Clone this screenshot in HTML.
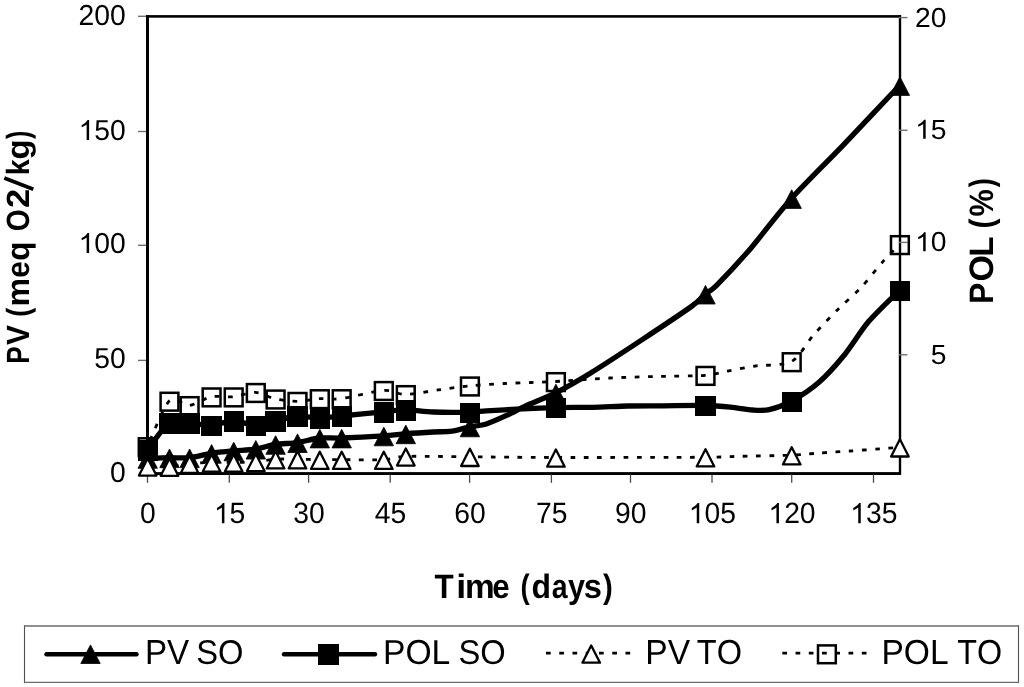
<!DOCTYPE html>
<html><head><meta charset="utf-8"><style>
html,body{margin:0;padding:0;background:#fff;}
svg{display:block;filter:grayscale(1);}
text{font-family:"Liberation Sans",sans-serif;fill:#000;font-kerning:none;text-rendering:geometricPrecision;}
.yl{font-size:28px;}
.lg{font-size:32px;}
.tt{font-size:32px;font-weight:bold;}
.tk{stroke:#707070;stroke-width:1.4;}
.tkx{stroke:#4a4a4a;stroke-width:1.3;}
.ls{fill:none;stroke:#000;stroke-width:5.3;stroke-linejoin:round;stroke-linecap:round;}
.ld{fill:none;stroke:#000;stroke-width:2.8;stroke-dasharray:4.7 8.55;}
.tf{fill:#000;stroke:#000;stroke-width:0.8;stroke-linejoin:round;}
.to{fill:#fff;stroke:#000;stroke-width:2.3;stroke-linejoin:round;}
.sf{fill:#000;shape-rendering:crispEdges;}
.so{fill:none;stroke:#000;stroke-width:2.5;}
</style></head><body>
<svg width="1024" height="687" viewBox="0 0 1024 687">
<rect width="1024" height="687" fill="#fff"/>

<rect x="146" y="15" width="3" height="460" fill="#000"/>
<rect x="146" y="15.1" width="755" height="2.6" fill="#000"/>
<rect x="898.8" y="15.1" width="2.4" height="459.5" fill="#000"/>
<rect x="146" y="472.1" width="755" height="2.9" fill="#000"/>

<line x1="138" y1="16.3" x2="146" y2="16.3" class="tk"/>
<text transform="translate(78.58,24.70) scale(1,1.0200)" style="font-size:28.30px">2</text><text transform="translate(94.32,24.70) scale(1,1.0200)" style="font-size:28.30px">0</text><text transform="translate(110.06,24.70) scale(1,1.0200)" style="font-size:28.30px">0</text>
<line x1="138" y1="131.5" x2="146" y2="131.5" class="tk"/>
<path d="M763,0 L583,0 L583,1147 C540,1106 483,1065 413,1024 C343,983 280,952 224,931 L224,1105 C325,1152 413,1210 488,1277 C563,1344 616,1407 647,1466 L763,1466 Z" transform="translate(78.58,140.00) scale(0.01382,-0.01360)" fill="#000"/><text transform="translate(94.32,140.00) scale(1,1.0200)" style="font-size:28.30px">5</text><text transform="translate(110.06,140.00) scale(1,1.0200)" style="font-size:28.30px">0</text>
<line x1="138" y1="245.3" x2="146" y2="245.3" class="tk"/>
<path d="M763,0 L583,0 L583,1147 C540,1106 483,1065 413,1024 C343,983 280,952 224,931 L224,1105 C325,1152 413,1210 488,1277 C563,1344 616,1407 647,1466 L763,1466 Z" transform="translate(78.58,253.00) scale(0.01382,-0.01360)" fill="#000"/><text transform="translate(94.32,253.00) scale(1,1.0200)" style="font-size:28.30px">0</text><text transform="translate(110.06,253.00) scale(1,1.0200)" style="font-size:28.30px">0</text>
<line x1="138" y1="360.4" x2="146" y2="360.4" class="tk"/>
<text transform="translate(94.32,368.40) scale(1,1.0200)" style="font-size:28.30px">5</text><text transform="translate(110.06,368.40) scale(1,1.0200)" style="font-size:28.30px">0</text>
<text transform="translate(110.06,481.60) scale(1,1.0200)" style="font-size:28.30px">0</text>
<line x1="899" y1="17.6" x2="907.5" y2="17.6" class="tk"/>
<text transform="translate(915.12,27.00) scale(1,0.9750)" style="font-size:28.30px">2</text><text transform="translate(930.86,27.00) scale(1,0.9750)" style="font-size:28.30px">0</text>
<line x1="899" y1="130.3" x2="907.5" y2="130.3" class="tk"/>
<path d="M763,0 L583,0 L583,1147 C540,1106 483,1065 413,1024 C343,983 280,952 224,931 L224,1105 C325,1152 413,1210 488,1277 C563,1344 616,1407 647,1466 L763,1466 Z" transform="translate(915.12,138.80) scale(0.01382,-0.01300)" fill="#000"/><text transform="translate(930.86,138.80) scale(1,0.9750)" style="font-size:28.30px">5</text>
<line x1="899" y1="242.4" x2="907.5" y2="242.4" class="tk"/>
<path d="M763,0 L583,0 L583,1147 C540,1106 483,1065 413,1024 C343,983 280,952 224,931 L224,1105 C325,1152 413,1210 488,1277 C563,1344 616,1407 647,1466 L763,1466 Z" transform="translate(915.12,251.30) scale(0.01382,-0.01300)" fill="#000"/><text transform="translate(930.86,251.30) scale(1,0.9750)" style="font-size:28.30px">0</text>
<line x1="899" y1="354.8" x2="907.5" y2="354.8" class="tk"/>
<text transform="translate(930.86,364.00) scale(1,0.9750)" style="font-size:28.30px">5</text>
<line x1="147.50" y1="474.5" x2="147.50" y2="482.8" class="tkx"/>
<text transform="translate(139.93,523.30) scale(1,1.0400)" style="font-size:28.30px">0</text>
<line x1="229.30" y1="474.5" x2="229.30" y2="482.8" class="tkx"/>
<path d="M763,0 L583,0 L583,1147 C540,1106 483,1065 413,1024 C343,983 280,952 224,931 L224,1105 C325,1152 413,1210 488,1277 C563,1344 616,1407 647,1466 L763,1466 Z" transform="translate(213.86,523.30) scale(0.01382,-0.01387)" fill="#000"/><text transform="translate(229.60,523.30) scale(1,1.0400)" style="font-size:28.30px">5</text>
<line x1="308.60" y1="474.5" x2="308.60" y2="482.8" class="tkx"/>
<text transform="translate(293.16,523.30) scale(1,1.0400)" style="font-size:28.30px">3</text><text transform="translate(308.90,523.30) scale(1,1.0400)" style="font-size:28.30px">0</text>
<line x1="390.20" y1="474.5" x2="390.20" y2="482.8" class="tkx"/>
<text transform="translate(374.76,523.30) scale(1,1.0400)" style="font-size:28.30px">4</text><text transform="translate(390.50,523.30) scale(1,1.0400)" style="font-size:28.30px">5</text>
<line x1="469.60" y1="474.5" x2="469.60" y2="482.8" class="tkx"/>
<text transform="translate(454.16,523.30) scale(1,1.0400)" style="font-size:28.30px">6</text><text transform="translate(469.90,523.30) scale(1,1.0400)" style="font-size:28.30px">0</text>
<line x1="551.40" y1="474.5" x2="551.40" y2="482.8" class="tkx"/>
<text transform="translate(535.96,523.30) scale(1,1.0400)" style="font-size:28.30px">7</text><text transform="translate(551.70,523.30) scale(1,1.0400)" style="font-size:28.30px">5</text>
<line x1="630.50" y1="474.5" x2="630.50" y2="482.8" class="tkx"/>
<text transform="translate(615.06,523.30) scale(1,1.0400)" style="font-size:28.30px">9</text><text transform="translate(630.80,523.30) scale(1,1.0400)" style="font-size:28.30px">0</text>
<line x1="712.00" y1="474.5" x2="712.00" y2="482.8" class="tkx"/>
<path d="M763,0 L583,0 L583,1147 C540,1106 483,1065 413,1024 C343,983 280,952 224,931 L224,1105 C325,1152 413,1210 488,1277 C563,1344 616,1407 647,1466 L763,1466 Z" transform="translate(688.69,523.30) scale(0.01382,-0.01387)" fill="#000"/><text transform="translate(704.43,523.30) scale(1,1.0400)" style="font-size:28.30px">0</text><text transform="translate(720.17,523.30) scale(1,1.0400)" style="font-size:28.30px">5</text>
<line x1="791.70" y1="474.5" x2="791.70" y2="482.8" class="tkx"/>
<path d="M763,0 L583,0 L583,1147 C540,1106 483,1065 413,1024 C343,983 280,952 224,931 L224,1105 C325,1152 413,1210 488,1277 C563,1344 616,1407 647,1466 L763,1466 Z" transform="translate(768.39,523.30) scale(0.01382,-0.01387)" fill="#000"/><text transform="translate(784.13,523.30) scale(1,1.0400)" style="font-size:28.30px">2</text><text transform="translate(799.87,523.30) scale(1,1.0400)" style="font-size:28.30px">0</text>
<line x1="873.50" y1="474.5" x2="873.50" y2="482.8" class="tkx"/>
<path d="M763,0 L583,0 L583,1147 C540,1106 483,1065 413,1024 C343,983 280,952 224,931 L224,1105 C325,1152 413,1210 488,1277 C563,1344 616,1407 647,1466 L763,1466 Z" transform="translate(850.19,523.30) scale(0.01382,-0.01387)" fill="#000"/><text transform="translate(865.93,523.30) scale(1,1.0400)" style="font-size:28.30px">3</text><text transform="translate(881.67,523.30) scale(1,1.0400)" style="font-size:28.30px">5</text>
<path d="M147.40,458.40 C150.45,458.30 163.33,457.80 169.20,457.70 C175.07,457.60 183.41,458.32 189.30,457.70 C195.19,457.08 205.13,454.25 211.30,453.30 C217.47,452.35 227.21,451.47 233.40,450.90 C239.59,450.33 249.63,450.11 255.50,449.20 C261.37,448.29 269.46,445.32 275.30,444.40 C281.14,443.48 291.01,443.50 297.20,442.60 C303.39,441.70 313.31,438.64 319.50,438.00 C325.69,437.36 332.44,438.29 341.40,438.00 C350.36,437.71 374.53,436.49 383.50,435.90 C392.47,435.31 398.54,434.35 405.50,433.80 C412.46,433.25 426.69,432.36 433.20,432.00 C439.71,431.64 446.90,431.91 452.00,431.20 C457.10,430.49 464.80,427.91 469.60,426.90 C474.40,425.89 480.94,425.69 486.30,424.00 C491.66,422.31 502.31,417.36 507.90,414.80 C513.49,412.24 519.52,408.77 526.20,405.70 C532.88,402.63 546.51,397.52 555.60,392.90 C564.69,388.28 578.98,380.16 591.10,372.70 C603.22,365.24 628.16,348.87 642.20,339.60 C656.24,330.33 682.58,312.87 691.40,306.50 C700.22,300.13 701.67,297.07 705.20,294.10 C708.73,291.13 710.36,291.56 716.60,285.30 C722.84,279.04 739.33,261.55 749.80,249.40 C760.27,237.25 778.35,213.07 791.40,198.50 C804.45,183.93 827.85,161.12 843.00,145.30 C858.15,129.48 891.68,93.87 899.60,85.50" class="ls"/>
<path d="M147.70,449.70 L157.40,468.30 L138.00,468.30 Z" class="tf"/>
<path d="M169.50,449.00 L179.20,467.60 L159.80,467.60 Z" class="tf"/>
<path d="M189.60,449.00 L199.30,467.60 L179.90,467.60 Z" class="tf"/>
<path d="M211.60,444.60 L221.30,463.20 L201.90,463.20 Z" class="tf"/>
<path d="M233.70,442.20 L243.40,460.80 L224.00,460.80 Z" class="tf"/>
<path d="M255.80,440.50 L265.50,459.10 L246.10,459.10 Z" class="tf"/>
<path d="M275.60,435.70 L285.30,454.30 L265.90,454.30 Z" class="tf"/>
<path d="M297.50,433.90 L307.20,452.50 L287.80,452.50 Z" class="tf"/>
<path d="M319.80,429.30 L329.50,447.90 L310.10,447.90 Z" class="tf"/>
<path d="M341.70,429.30 L351.40,447.90 L332.00,447.90 Z" class="tf"/>
<path d="M383.80,427.20 L393.50,445.80 L374.10,445.80 Z" class="tf"/>
<path d="M405.80,425.10 L415.50,443.70 L396.10,443.70 Z" class="tf"/>
<path d="M469.90,418.20 L479.60,436.80 L460.20,436.80 Z" class="tf"/>
<path d="M555.90,384.20 L565.60,402.80 L546.20,402.80 Z" class="tf"/>
<path d="M705.50,285.40 L715.20,304.00 L695.80,304.00 Z" class="tf"/>
<path d="M791.70,189.80 L801.40,208.40 L782.00,208.40 Z" class="tf"/>
<path d="M899.90,76.80 L909.60,95.40 L890.20,95.40 Z" class="tf"/>
<path d="M147.40,466.40 C150.45,466.43 163.33,466.98 169.20,466.60 C175.07,466.22 183.41,464.29 189.30,463.70 C195.19,463.11 205.13,462.58 211.30,462.40 C217.47,462.22 227.21,462.47 233.40,462.40 C239.59,462.33 249.63,462.35 255.50,461.90 C261.37,461.45 269.46,459.58 275.30,459.20 C281.14,458.82 291.01,459.13 297.20,459.20 C303.39,459.27 313.31,459.63 319.50,459.70 C325.69,459.77 332.44,459.70 341.40,459.70 C350.36,459.70 374.53,460.16 383.50,459.70 C392.47,459.24 393.45,456.81 405.50,456.40 C417.55,455.99 448.59,456.65 469.60,456.80 C490.61,456.95 522.62,457.44 555.60,457.50 C588.58,457.56 679.38,457.37 705.20,457.20 C731.02,457.03 727.93,456.58 740.00,456.30 C752.07,456.02 780.20,455.66 791.40,455.20 C802.60,454.74 811.80,453.59 820.00,453.00 C828.20,452.41 841.60,451.59 850.00,451.00 C858.40,450.41 873.06,449.32 880.00,448.80 C886.94,448.28 896.86,447.51 899.60,447.30" class="ld"/>
<path d="M147.70,458.40 L156.50,475.60 L138.90,475.60 Z" class="to"/>
<path d="M169.50,458.60 L178.30,475.80 L160.70,475.80 Z" class="to"/>
<path d="M189.60,455.70 L198.40,472.90 L180.80,472.90 Z" class="to"/>
<path d="M211.60,454.40 L220.40,471.60 L202.80,471.60 Z" class="to"/>
<path d="M233.70,454.40 L242.50,471.60 L224.90,471.60 Z" class="to"/>
<path d="M255.80,453.90 L264.60,471.10 L247.00,471.10 Z" class="to"/>
<path d="M275.60,451.20 L284.40,468.40 L266.80,468.40 Z" class="to"/>
<path d="M297.50,451.20 L306.30,468.40 L288.70,468.40 Z" class="to"/>
<path d="M319.80,451.70 L328.60,468.90 L311.00,468.90 Z" class="to"/>
<path d="M341.70,451.70 L350.50,468.90 L332.90,468.90 Z" class="to"/>
<path d="M383.80,451.70 L392.60,468.90 L375.00,468.90 Z" class="to"/>
<path d="M405.80,448.40 L414.60,465.60 L397.00,465.60 Z" class="to"/>
<path d="M469.90,448.80 L478.70,466.00 L461.10,466.00 Z" class="to"/>
<path d="M555.90,449.50 L564.70,466.70 L547.10,466.70 Z" class="to"/>
<path d="M705.50,449.20 L714.30,466.40 L696.70,466.40 Z" class="to"/>
<path d="M791.70,447.20 L800.50,464.40 L782.90,464.40 Z" class="to"/>
<path d="M899.90,439.30 L908.70,456.50 L891.10,456.50 Z" class="to"/>
<path d="M147.40,450.00 C150.45,446.22 163.33,426.78 169.20,423.00 C175.07,419.22 183.41,422.68 189.30,423.00 C195.19,423.32 205.13,425.59 211.30,425.30 C217.47,425.01 227.21,420.90 233.40,420.90 C239.59,420.90 249.63,425.30 255.50,425.30 C261.37,425.30 269.46,422.20 275.30,420.90 C281.14,419.60 291.01,416.39 297.20,416.00 C303.39,415.61 313.31,418.10 319.50,418.10 C325.69,418.10 332.44,416.87 341.40,416.00 C350.36,415.13 374.53,412.75 383.50,411.90 C392.47,411.05 398.54,409.89 405.50,409.90 C412.46,409.91 424.23,411.69 433.20,412.00 C442.17,412.31 462.17,412.25 469.60,412.10 C477.03,411.95 479.78,411.31 486.30,410.90 C492.82,410.49 506.50,409.66 516.20,409.20 C525.90,408.74 544.89,407.87 555.60,407.60 C566.31,407.33 582.58,407.52 592.70,407.30 C602.82,407.08 618.06,406.21 627.90,406.00 C637.74,405.79 652.18,405.87 663.00,405.80 C673.82,405.73 695.76,405.32 705.20,405.50 C714.64,405.68 723.76,406.47 730.40,407.10 C737.04,407.73 747.17,409.65 752.60,410.00 C758.03,410.35 763.77,410.85 769.20,409.60 C774.63,408.35 784.43,404.94 791.40,401.10 C798.37,397.26 811.65,388.58 819.00,382.20 C826.35,375.82 836.93,364.03 843.90,355.50 C850.87,346.97 861.00,330.44 868.80,321.30 C876.60,312.16 895.29,294.55 899.60,290.20" class="ls"/>
<rect x="137.55" y="440.45" width="20.3" height="20.3" class="sf"/>
<rect x="159.35" y="413.45" width="20.3" height="20.3" class="sf"/>
<rect x="179.45" y="413.45" width="20.3" height="20.3" class="sf"/>
<rect x="201.45" y="415.75" width="20.3" height="20.3" class="sf"/>
<rect x="223.55" y="411.35" width="20.3" height="20.3" class="sf"/>
<rect x="245.65" y="415.75" width="20.3" height="20.3" class="sf"/>
<rect x="265.45" y="411.35" width="20.3" height="20.3" class="sf"/>
<rect x="287.35" y="406.45" width="20.3" height="20.3" class="sf"/>
<rect x="309.65" y="408.55" width="20.3" height="20.3" class="sf"/>
<rect x="331.55" y="406.45" width="20.3" height="20.3" class="sf"/>
<rect x="373.65" y="402.35" width="20.3" height="20.3" class="sf"/>
<rect x="395.65" y="400.35" width="20.3" height="20.3" class="sf"/>
<rect x="459.75" y="402.55" width="20.3" height="20.3" class="sf"/>
<rect x="545.75" y="398.05" width="20.3" height="20.3" class="sf"/>
<rect x="695.35" y="395.95" width="20.3" height="20.3" class="sf"/>
<rect x="781.55" y="391.55" width="20.3" height="20.3" class="sf"/>
<rect x="889.75" y="280.65" width="20.3" height="20.3" class="sf"/>
<path d="M147.40,446.60 C150.45,440.23 163.33,406.85 169.20,401.10 C175.07,395.35 183.41,406.10 189.30,405.50 C195.19,404.90 205.13,398.02 211.30,396.80 C217.47,395.58 227.21,397.42 233.40,396.80 C239.59,396.18 249.63,392.11 255.50,392.40 C261.37,392.69 269.46,397.65 275.30,398.90 C281.14,400.15 291.01,401.34 297.20,401.30 C303.39,401.26 313.31,398.98 319.50,398.60 C325.69,398.22 332.44,399.75 341.40,398.60 C350.36,397.45 374.53,390.97 383.50,390.40 C392.47,389.83 397.84,394.57 405.50,394.50 C413.16,394.43 429.23,391.10 438.20,389.90 C447.17,388.70 460.30,386.80 469.60,385.90 C478.90,385.00 495.99,383.98 504.60,383.50 C513.21,383.02 523.96,382.78 531.10,382.50 C538.24,382.22 544.55,382.13 555.60,381.50 C566.65,380.87 596.08,378.70 610.00,378.00 C623.92,377.30 641.67,376.88 655.00,376.50 C668.33,376.12 695.02,376.06 705.20,375.30 C715.38,374.54 720.69,372.40 727.70,371.10 C734.71,369.80 746.38,367.33 755.30,366.00 C764.22,364.67 783.27,365.93 791.40,361.60 C799.53,357.27 806.82,342.48 813.40,335.10 C819.98,327.72 831.81,315.48 838.40,308.90 C844.99,302.32 854.12,294.89 860.50,288.10 C866.88,281.31 878.53,266.50 884.00,260.40 C889.47,254.30 897.42,246.73 899.60,244.50" class="ld" style="stroke-dashoffset:-6.8"/>
<rect x="138.80" y="438.30" width="17.8" height="17.8" class="so"/>
<rect x="160.60" y="392.80" width="17.8" height="17.8" class="so"/>
<rect x="180.70" y="397.20" width="17.8" height="17.8" class="so"/>
<rect x="202.70" y="388.50" width="17.8" height="17.8" class="so"/>
<rect x="224.80" y="388.50" width="17.8" height="17.8" class="so"/>
<rect x="246.90" y="384.10" width="17.8" height="17.8" class="so"/>
<rect x="266.70" y="390.60" width="17.8" height="17.8" class="so"/>
<rect x="288.60" y="393.00" width="17.8" height="17.8" class="so"/>
<rect x="310.90" y="390.30" width="17.8" height="17.8" class="so"/>
<rect x="332.80" y="390.30" width="17.8" height="17.8" class="so"/>
<rect x="374.90" y="382.10" width="17.8" height="17.8" class="so"/>
<rect x="396.90" y="386.20" width="17.8" height="17.8" class="so"/>
<rect x="461.00" y="377.60" width="17.8" height="17.8" class="so"/>
<rect x="547.00" y="373.20" width="17.8" height="17.8" class="so"/>
<rect x="696.60" y="367.00" width="17.8" height="17.8" class="so"/>
<rect x="782.80" y="353.30" width="17.8" height="17.8" class="so"/>
<rect x="891.00" y="236.20" width="17.8" height="17.8" class="so"/>
<text transform="translate(434.55,597.50) scale(0.9818,1.0583)" style="font-size:32.00px;font-weight:bold">T</text><text transform="translate(456.31,597.50) scale(1.1160,1.0583)" style="font-size:32.00px;font-weight:bold">i</text><text transform="translate(464.90,597.50) scale(1.0427,1.0583)" style="font-size:32.00px;font-weight:bold">m</text><text transform="translate(492.28,597.50) scale(0.9771,1.0583)" style="font-size:32.00px;font-weight:bold">e</text><text transform="translate(520.62,597.50) scale(0.8637,1.0583)" style="font-size:32.00px;font-weight:bold">(</text><text transform="translate(531.39,597.50) scale(0.9984,1.0583)" style="font-size:32.00px;font-weight:bold">d</text><text transform="translate(551.86,597.50) scale(0.8908,1.0583)" style="font-size:32.00px;font-weight:bold">a</text><text transform="translate(568.06,597.50) scale(0.9554,1.0583)" style="font-size:32.00px;font-weight:bold">y</text><text transform="translate(583.75,597.50) scale(1.0222,1.0583)" style="font-size:32.00px;font-weight:bold">s</text><text transform="translate(602.97,597.50) scale(0.9190,1.0583)" style="font-size:32.00px;font-weight:bold">)</text>
<text transform="translate(29.10,363.75) rotate(-90) scale(0.8173,1.0038)" style="font-size:32.00px;font-weight:bold">P</text><text transform="translate(29.10,344.91) rotate(-90) scale(0.9375,1.0038)" style="font-size:32.00px;font-weight:bold">V</text><text transform="translate(29.10,316.74) rotate(-90) scale(0.8415,1.0038)" style="font-size:32.00px;font-weight:bold">(</text><text transform="translate(29.10,306.51) rotate(-90) scale(1.0017,1.0038)" style="font-size:32.00px;font-weight:bold">m</text><text transform="translate(29.10,277.66) rotate(-90) scale(0.9319,1.0038)" style="font-size:32.00px;font-weight:bold">e</text><text transform="translate(29.10,260.78) rotate(-90) scale(0.9755,1.0038)" style="font-size:32.00px;font-weight:bold">q</text><text transform="translate(29.10,231.36) rotate(-90) scale(0.8815,1.0038)" style="font-size:32.00px;font-weight:bold">O</text><text transform="translate(29.10,208.00) rotate(-90) scale(1.0775,1.0038)" style="font-size:32.00px;font-weight:bold">2</text><text transform="translate(29.10,175.29) rotate(-90) scale(0.8914,1.0038)" style="font-size:32.00px;font-weight:bold">k</text><text transform="translate(29.10,159.55) rotate(-90) scale(1.0315,1.0038)" style="font-size:32.00px;font-weight:bold">g</text><text transform="translate(29.10,139.02) rotate(-90) scale(0.7751,1.0038)" style="font-size:32.00px;font-weight:bold">)</text>
<line x1="4.3" y1="178.0" x2="33.3" y2="189.3" stroke="#000" stroke-width="3.7"/>
<text transform="translate(993.40,303.93) rotate(-90) scale(0.9940,1.0583)" style="font-size:32.00px;font-weight:bold">P</text><text transform="translate(993.40,281.39) rotate(-90) scale(1.0614,1.0583)" style="font-size:32.00px;font-weight:bold">O</text><text transform="translate(993.40,256.73) rotate(-90) scale(1.0413,1.0583)" style="font-size:32.00px;font-weight:bold">L</text><text transform="translate(993.40,228.50) rotate(-90) scale(0.9412,1.0583)" style="font-size:32.00px;font-weight:bold">(</text><text transform="translate(993.40,216.46) rotate(-90) scale(0.9548,1.0583)" style="font-size:32.00px;font-weight:bold">%</text><text transform="translate(993.40,187.33) rotate(-90) scale(0.8415,1.0583)" style="font-size:32.00px;font-weight:bold">)</text>
<path d="M24.5,625.3 V683.2 M1018.5,625.3 V683.2" stroke="#4f4f4f" stroke-width="1.1" fill="none"/>
<path d="M24,626 H1019 M24,682.4 H1019" stroke="#6c6c6c" stroke-width="1.4" fill="none"/>
<line x1="46.5" y1="654.3" x2="136.5" y2="654.3" class="ls" style="stroke-width:4.4"/>
<path d="M90.50,644.90 L100.20,663.50 L80.80,663.50 Z" class="tf"/>
<text transform="translate(144.98,664.40) scale(1,1.0468)" style="font-size:33.18px;font-weight:normal" >PV</text>
<text transform="translate(196.21,664.40) scale(1,1.0470)" style="font-size:32.70px;font-weight:normal" >SO</text>
<line x1="284" y1="654.3" x2="375" y2="654.3" class="ls" style="stroke-width:4.4"/>
<rect x="318.35" y="644.35" width="20.3" height="20.3" class="sf"/>
<text transform="translate(382.94,664.40) scale(1,1.0316)" style="font-size:33.67px;font-weight:normal" >POL</text>
<text transform="translate(458.51,664.40) scale(1,1.0470)" style="font-size:32.70px;font-weight:normal" >SO</text>
<line x1="546" y1="653.2" x2="632" y2="653.2" class="ld"/>
<path d="M591.20,645.50 L600.00,662.70 L582.40,662.70 Z" class="to"/>
<text transform="translate(645.34,664.40) scale(1,1.0343)" style="font-size:33.59px;font-weight:normal" >PV</text>
<text transform="translate(696.77,664.40) scale(1,1.0675)" style="font-size:32.54px;font-weight:normal" >TO</text>
<line x1="782.3" y1="653.2" x2="868" y2="653.2" class="ld"/>
<rect x="818.00" y="645.40" width="17.8" height="17.8" class="so"/>
<text transform="translate(881.45,664.40) scale(1,1.0349)" style="font-size:33.57px;font-weight:normal" >POL</text>
<text transform="translate(957.37,664.40) scale(1,1.0751)" style="font-size:32.31px;font-weight:normal" >TO</text>
</svg>
</body></html>
